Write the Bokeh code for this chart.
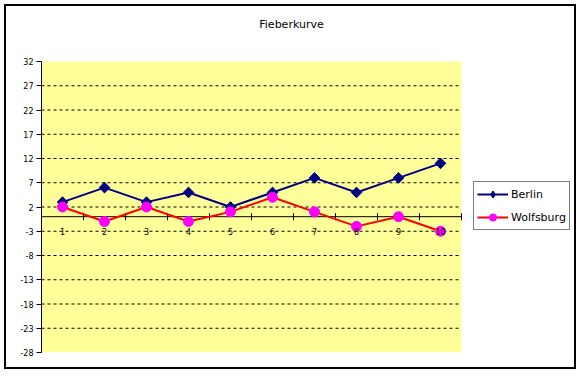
import math
from bokeh.plotting import figure
from bokeh.models import (ColumnDataSource, FixedTicker, Range1d, Legend, LegendItem, Label,
                          PrintfTickFormatter)
from bokeh.core.properties import value
from bokeh.embed import file_html
from bokeh.resources import INLINE

title = "Fieberkurve"
days = [1, 2, 3, 4, 5, 6, 7, 8, 9, 10]
berlin = [3, 6, 3, 5, 2, 5, 8, 5, 8, 11]
wolfsburg = [2, -1, 2, -1, 1, 4, 1, -2, 0, -3]
y_ticks = [-28, -23, -18, -13, -8, -3, 2, 7, 12, 17, 22, 27, 32]
series_names = ["Berlin", "Wolfsburg"]

FONT = "DejaVu Sans"
OFF = 6                      # canvas origin inside the page (after margin + border)
W, H = 578 - OFF, 371 - OFF  # canvas size
# plot-area (yellow) edges in canvas pixels
PL, PR, PT, PB = 41 - OFF, 461 - OFF, 61 - OFF, 352 - OFF

x0, x1 = days[0] - 0.5, days[-1] + 0.5
ppx = (PR - PL) / (x1 - x0)
ylo, yhi = y_ticks[0], y_ticks[-1]
ppy = (PB - PT) / (yhi - ylo)

# frame covers from the y axis to the right canvas edge and up to the top
p = figure(width=W, height=H, output_backend="svg", toolbar_location=None,
           x_axis_location=None,
           x_range=Range1d(x0, x0 + (W - PL) / ppx),
           y_range=Range1d(ylo, yhi + PT / ppy),
           min_border_left=PL, min_border_right=0,
           min_border_top=0, min_border_bottom=H - PB)
p.styles = {"margin-left": "4px", "margin-top": "4px", "border": "2px solid black"}
p.background_fill_color = "white"
p.border_fill_color = "white"
p.outline_line_color = None
p.xgrid.visible = False
p.ygrid.visible = False

# yellow plot area
p.quad(left=[x0], right=[x1], bottom=[ylo], top=[yhi], fill_color="#FFFF99", line_color=None)

# y axis
p.yaxis.bounds = (ylo, yhi)
p.yaxis.ticker = FixedTicker(ticks=y_ticks, minor_ticks=[])
p.yaxis.formatter = PrintfTickFormatter(format="%d")
p.yaxis.major_label_text_font = FONT
p.yaxis.major_label_text_font_size = "8px"
p.yaxis.major_label_text_color = "black"
p.yaxis.major_tick_in = 0
p.yaxis.major_tick_out = 5
p.yaxis.major_label_standoff = 3
p.yaxis.axis_line_color = "black"
p.yaxis.major_tick_line_color = "black"

# dashed gridlines inside the plot area
gy = y_ticks[1:-1]
gsrc = ColumnDataSource(dict(y=gy, xa=[x0] * len(gy), xb=[x1] * len(gy)))
p.segment(x0="xa", x1="xb", y0="y", y1="y", source=gsrc,
          line_color="black", line_dash="3 3", line_width=1)

# category axis at zero
p.segment(x0=[x0], x1=[x1], y0=[0], y1=[0], line_color="black", line_width=1)
bounds = [d - 0.5 for d in days] + [days[-1] + 0.5]
tsrc = ColumnDataSource(dict(x=bounds, y0=[0] * len(bounds)))
p.scatter(x="x", y="y0", source=tsrc, marker="dash", angle=math.pi / 2, size=7,
          line_color="black", line_width=1)

# series
src = ColumnDataSource(dict(x=days, b=berlin, w=wolfsburg))
lb = p.line("x", "b", source=src, line_color="#000080", line_width=2)
mb_leg = p.scatter("x", "b", source=src, marker="diamond", size=10,
                   fill_color="#000080", line_color="#000080")
p.scatter("x", "b", source=src, marker="square", angle=math.pi / 4, size=7.5,
          fill_color="#000080", line_color="#000080")
lw = p.line("x", "w", source=src, line_color="#FF0000", line_width=2)
mw = p.scatter("x", "w", source=src, marker="circle", size=10,
               fill_color="#FF00FF", line_color="#FF00FF")

# category labels under the zero line
lsrc = ColumnDataSource(dict(x=days, y=[0] * len(days), t=[str(d) for d in days]))
p.text(x="x", y="y", text="t", source=lsrc, text_font=value(FONT), text_font_size="8px",
       text_align="center", text_baseline="middle", y_offset=15, text_color="black")

legend = Legend(items=[LegendItem(label=series_names[0], renderers=[lb, mb_leg]),
                       LegendItem(label=series_names[1], renderers=[lw, mw])],
                location=(473 - OFF - PL, PB - (230 - OFF)), orientation="vertical")
legend.label_text_font = FONT
legend.label_text_font_size = "11px"
legend.label_text_color = "black"
legend.border_line_color = "black"
legend.border_line_width = 1
legend.background_fill_color = "white"
legend.background_fill_alpha = 1
legend.glyph_width = 31
legend.glyph_height = 18
legend.label_standoff = 3
legend.padding = 3
legend.spacing = 5
legend.margin = 0
legend.label_height = 18
p.add_layout(legend)

# chart title (screen units, relative to frame)
p.add_layout(Label(x=(291 - OFF) - PL, y=PB - (24 - OFF), x_units="screen", y_units="screen",
                   text=title, text_font=FONT, text_font_size="11px",
                   text_align="center", text_baseline="middle", text_color="black"))

open("out.html", "w").write(file_html(p, INLINE))
